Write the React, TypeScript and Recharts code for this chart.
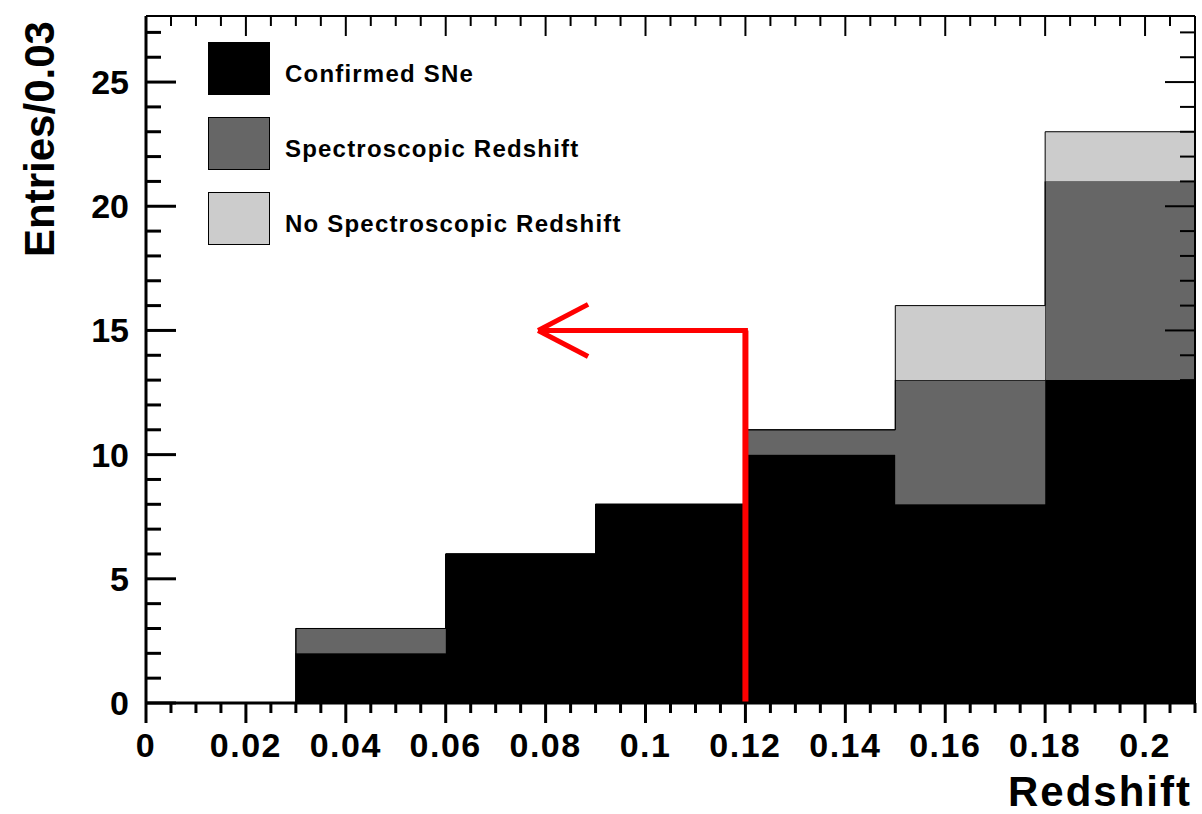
import React from 'react';
import { ComposedChart, Area, XAxis, YAxis, ReferenceLine } from 'recharts';

const binEdges = [0, 0.03, 0.06, 0.09, 0.12, 0.15, 0.18, 0.21];
const confirmed = [0, 2, 6, 8, 10, 8, 13];
const spectro = [0, 1, 0, 0, 1, 5, 8];
const noSpectro = [0, 0, 0, 0, 0, 3, 2];

const xMinorTicks = Array.from({ length: 43 }, (_, i) => +(i * 0.005).toFixed(3));
const xMajorLabels = ['0', '0.02', '0.04', '0.06', '0.08', '0.1', '0.12', '0.14', '0.16', '0.18', '0.2'];
const yMinorTicks = Array.from({ length: 28 }, (_, i) => i);

// stepAfter needs a closing point at the last edge
const data = binEdges.map((x, i) => {
  const k = Math.min(i, confirmed.length - 1);
  return { x, confirmed: confirmed[k], spectro: spectro[k], none: noSpectro[k] };
});

const font = '"Liberation Sans", Arial, sans-serif';
const isMajorX = (v: number) => Math.abs(Math.round(v / 0.02) * 0.02 - v) < 1e-6;
const xLabel = (v: number) => xMajorLabels[Math.round(v / 0.02)];

const BottomTick = ({ x, y, payload }: any) => {
  const major = isMajorX(payload.value);
  return (
    <g>
      <line x1={x} x2={x} y1={y} y2={y + (major ? 20 : 10)} stroke="#000" strokeWidth={3} />
      {major && (
        <text x={x} y={y + 54} textAnchor="middle" fontSize={34} fontWeight="bold" fontFamily={font} fill="#000" letterSpacing={1.5}>
          {xLabel(payload.value)}
        </text>
      )}
    </g>
  );
};
const TopTick = ({ x, y, payload }: any) => {
  const major = isMajorX(payload.value);
  return <line x1={x} x2={x} y1={y} y2={y + (major ? 20 : 10)} stroke="#000" strokeWidth={2} />;
};
const LeftTick = ({ x, y, payload }: any) => {
  const major = payload.value % 5 === 0;
  return (
    <g>
      <line x1={x} x2={x + (major ? 30 : 15)} y1={y} y2={y} stroke="#000" strokeWidth={3} />
      {major && (
        <text x={x - 17} y={y + 12} textAnchor="end" fontSize={34} fontWeight="bold" fontFamily={font} fill="#000">
          {payload.value}
        </text>
      )}
    </g>
  );
};
const RightTick = ({ x, y, payload }: any) => {
  const major = payload.value % 5 === 0;
  return <line x1={x} x2={x - (major ? 30 : 15)} y1={y} y2={y} stroke="#000" strokeWidth={2} />;
};

const legendItems = [
  { label: 'Confirmed SNe', color: '#000000', top: 42 },
  { label: 'Spectroscopic Redshift', color: '#666666', top: 117 },
  { label: 'No Spectroscopic Redshift', color: '#cccccc', top: 192 },
];

const red = '#ff0000';

export default function App() {
  return (
    <div style={{ position: 'absolute', left: 0, top: 0, width: 1202, height: 814, background: '#fff', fontFamily: font }}>
      <ComposedChart width={1202} height={814} data={data} margin={{ top: 15, right: 6, bottom: 110, left: 145 }}>
        <XAxis dataKey="x" type="number" domain={[0, 0.21]} ticks={xMinorTicks} interval={0}
          tick={<BottomTick />} tickSize={0} tickMargin={0} tickLine={false} height={1}
          axisLine={{ stroke: '#000', strokeWidth: 3 }} allowDataOverflow />
        <XAxis xAxisId="top" orientation="top" dataKey="x" type="number" domain={[0, 0.21]} ticks={xMinorTicks} interval={0}
          tick={<TopTick />} tickSize={0} tickMargin={0} tickLine={false} height={1}
          axisLine={{ stroke: '#000', strokeWidth: 2 }} allowDataOverflow />
        <YAxis type="number" domain={[0, 27.66]} ticks={yMinorTicks} interval={0}
          tick={<LeftTick />} tickSize={0} tickMargin={0} tickLine={false} width={1}
          axisLine={{ stroke: '#000', strokeWidth: 3 }} allowDataOverflow />
        <YAxis yAxisId="right" orientation="right" type="number" domain={[0, 27.66]} ticks={yMinorTicks} interval={0}
          tick={<RightTick />} tickSize={0} tickMargin={0} tickLine={false} width={1}
          axisLine={{ stroke: '#000', strokeWidth: 2 }} allowDataOverflow />
        <Area type="stepAfter" dataKey="confirmed" stackId="h" fill="#000000" fillOpacity={1} stroke="#000" strokeWidth={1} isAnimationActive={false} />
        <Area type="stepAfter" dataKey="spectro" stackId="h" fill="#666666" fillOpacity={1} stroke="#000" strokeWidth={1} isAnimationActive={false} />
        <Area type="stepAfter" dataKey="none" stackId="h" fill="#cccccc" fillOpacity={1} stroke="#000" strokeWidth={1} isAnimationActive={false} />
        <ReferenceLine segment={[{ x: 0.12, y: 0 }, { x: 0.12, y: 15 }]} stroke={red} strokeWidth={6} />
        <ReferenceLine segment={[{ x: 0.1205, y: 15 }, { x: 0.0785, y: 15 }]} stroke={red} strokeWidth={5} />
        <ReferenceLine segment={[{ x: 0.0785, y: 15 }, { x: 0.0885, y: 16.05 }]} stroke={red} strokeWidth={5} />
        <ReferenceLine segment={[{ x: 0.0785, y: 15 }, { x: 0.0885, y: 13.95 }]} stroke={red} strokeWidth={5} />
      </ComposedChart>
      {legendItems.map((it) => (
        <div key={it.label} style={{ position: 'absolute', left: 208, top: it.top, display: 'flex', alignItems: 'center' }}>
          <div style={{ width: 60, height: 51, background: it.color, border: '1px solid #000' }} />
          <span style={{ marginLeft: 15, marginTop: 10, fontSize: 24, fontWeight: 'bold', color: '#000', letterSpacing: 1.2 }}>{it.label}</span>
        </div>
      ))}
      <div style={{ position: 'absolute', left: 40, top: 139, transform: 'translate(-50%, -50%) rotate(-90deg)', fontSize: 42, fontWeight: 'bold', whiteSpace: 'nowrap' }}>
        Entries/0.03
      </div>
      <div style={{ position: 'absolute', right: 10, top: 768, fontSize: 42, fontWeight: 'bold', lineHeight: '48px', letterSpacing: 2 }}>
        Redshift
      </div>
    </div>
  );
}
